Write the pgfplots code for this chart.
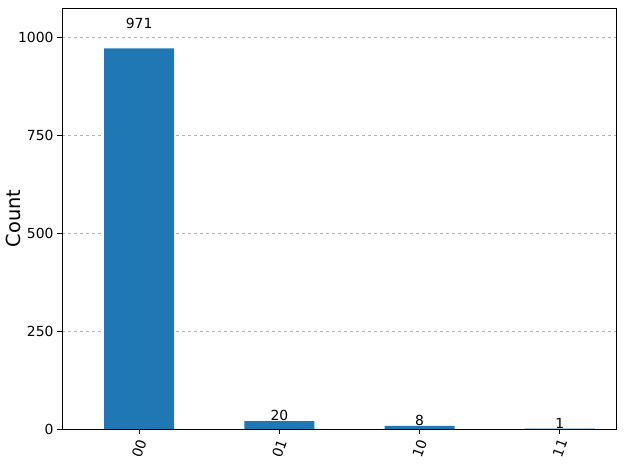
\documentclass[border=0pt]{standalone}
\usepackage{pgfplots}
\pgfplotsset{compat=1.18}
\usepackage{fontspec}
\setmainfont{DejaVu Sans}
\definecolor{mplblue}{HTML}{1F77B4}
\begin{document}
\begin{tikzpicture}
\path[use as bounding box] (-62pt,-41pt) rectangle (568pt,429pt);
\begin{axis}[
  scale only axis,
  width=554pt, height=421pt,
  xmin=-0.55, xmax=3.40,
  ymin=0, ymax=1074,
  xtick={0,1,2,3},
  xticklabels={\rotatebox{70}{00},\rotatebox{70}{01},\rotatebox{70}{10},\rotatebox{70}{11}},
  ytick={0,250,500,750,1000},
  xticklabel style={anchor=north, inner sep=0pt, yshift=-4pt, font=\fontsize{13.9}{16}\selectfont},
  yticklabel style={font=\fontsize{13.9}{16}\selectfont},
  /pgf/number format/assume math mode=true,
  /pgf/number format/1000 sep={},
  ymajorgrids,
  grid style={dashed, gray!60},
  tick align=outside,
  tick style={black, thick},
  major tick length=5pt,
  xtick pos=bottom, ytick pos=left,
  ylabel={Count},
  ylabel style={at={(axis description cs:-0.068,0.5)}, anchor=south, font=\fontsize{19.4}{22}\selectfont},
  axis line style={black},
]
\addplot[ybar, bar width=70pt, fill=mplblue, draw=none, bar shift=0pt] coordinates {(0,971) (1,20) (2,8) (3,1)};
\addplot[draw=none, mark=none, nodes near coords, point meta=explicit symbolic,
  every node near coord/.append style={font=\fontsize{13.9}{16}\selectfont, black, anchor=south, inner sep=0pt}]
  coordinates {(0,1019.55)[971] (1,21)[20] (2,8.4)[8] (3,1.05)[1]};
\end{axis}
\end{tikzpicture}
\end{document}
